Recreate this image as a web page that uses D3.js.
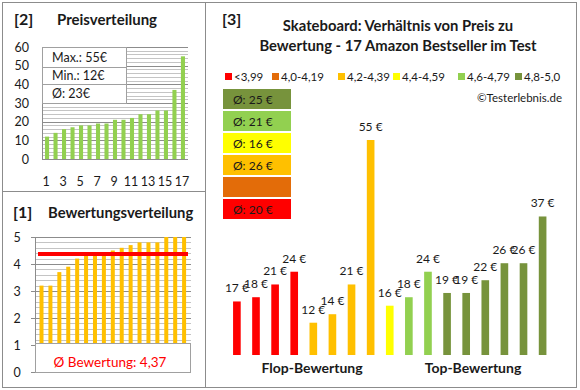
<!DOCTYPE html>
<html><head><meta charset="utf-8">
<script src="https://cdn.jsdelivr.net/npm/d3@7"></script>
<style>body{margin:0;background:#fff}svg{display:block;font-family:Lato,"Liberation Sans",sans-serif}</style>
</head><body>
<svg id="c" width="580" height="390"></svg>
<script>
// ---- data ----
const products = d3.range(1, 18);
const prices = [17, 18, 21, 24, 12, 14, 21, 55, 16, 18, 24, 19, 19, 22, 26, 26, 37];
const ratings = [3.2, 3.2, 3.7, 3.9, 4.2, 4.3, 4.3, 4.3, 4.5, 4.6, 4.7, 4.8, 4.8, 4.8, 5.0, 5.0, 5.0];
const classLabels = ["<3,99", "4,0-4,19", "4,2-4,39", "4,4-4,59", "4,6-4,79", "4,8-5,0"];
const classColors = ["#FF0000", "#E36C09", "#FFC000", "#FFFF00", "#92D050", "#77933C"];
const classMin = [0, 4.0, 4.2, 4.4, 4.6, 4.8];
const avgBoxOrder = [5, 4, 3, 2, 1, 0];
const priceTicks = [0, 10, 20, 30, 40, 50, 60];
const priceXTicks = [1, 3, 5, 7, 9, 11, 13, 15, 17];
const ratingTicks = [0, 1, 2, 3, 4, 5];
const sortedPrices = prices.slice().sort(d3.ascending);
const sortedRatings = ratings.slice().sort(d3.ascending);
const avgRating = d3.mean(ratings);

const svg = d3.select('#c');
const txt = '#1a1a1a';
const borderC = '#8c8c8c';

// ---- panel borders ----
svg.append('rect').attr('x', 2.5).attr('y', 2.5).attr('width', 574).attr('height', 385)
  .attr('fill', 'none').attr('stroke', borderC);
svg.append('line').attr('x1', 205.5).attr('x2', 205.5).attr('y1', 2).attr('y2', 388).attr('stroke', borderC);
svg.append('line').attr('x1', 2).attr('x2', 205.5).attr('y1', 191.5).attr('y2', 191.5).attr('stroke', borderC);

// ---- [2] Preisverteilung ----
svg.append('text').attr('x', 14).attr('y', 25).attr('font-size', 16).attr('font-weight', 'bold').attr('fill', txt).text('[2]');
svg.append('text').attr('x', 57).attr('y', 25).attr('font-size', 15).attr('font-weight', 'bold').attr('fill', txt).text('Preisverteilung');

const p2 = {l: 42, r: 188, t: 47, b: 159};
const y2 = d3.scaleLinear().domain([0, 60]).range([p2.b, p2.t]);
const x2 = d3.scaleBand().domain(products).range([40.6, 189.4]).padding(0.52);
const g2 = svg.append('g');
g2.selectAll('line.minor').data(d3.range(2, 61, 2)).join('line')
  .attr('x1', p2.l).attr('x2', p2.r).attr('y1', d => Math.round(y2(d)) + 0.5).attr('y2', d => Math.round(y2(d)) + 0.5)
  .attr('stroke', d => d % 10 === 0 ? '#8c8c8c' : '#c4c4c4');
g2.append('line').attr('x1', p2.l + 0.5).attr('x2', p2.l + 0.5).attr('y1', p2.t).attr('y2', p2.b).attr('stroke', '#8c8c8c');
g2.append('line').attr('x1', p2.l).attr('x2', p2.r).attr('y1', p2.b + 0.5).attr('y2', p2.b + 0.5).attr('stroke', '#8c8c8c');
g2.selectAll('rect.bar').data(sortedPrices).join('rect')
  .attr('x', (d, i) => x2(products[i])).attr('width', x2.bandwidth())
  .attr('y', d => y2(d)).attr('height', d => y2(0) - y2(d)).attr('fill', '#92D050');
g2.selectAll('text.yl').data(priceTicks).join('text')
  .attr('x', 29).attr('y', d => y2(d) + 4.5).attr('text-anchor', 'end').attr('font-size', 12.5).attr('fill', txt).text(d => d);
g2.selectAll('text.xl').data(priceXTicks).join('text')
  .attr('x', d => x2(d) + x2.bandwidth() / 2 - 1).attr('y', 186).attr('text-anchor', 'middle').attr('font-size', 12.5).attr('fill', txt).text(d => d);
// info box
const infoRows = ['Max.: ' + d3.max(prices) + '€', 'Min.: ' + d3.min(prices) + '€', 'Ø: ' + Math.round(d3.mean(prices)) + '€'];
const rowY = [47, 67, 84, 103];
g2.append('rect').attr('x', 42.5).attr('y', 47.5).attr('width', 84).attr('height', 56).attr('fill', '#fff').attr('stroke', '#a0a0a0');
g2.selectAll('line.sep').data([67, 84]).join('line')
  .attr('x1', 42.5).attr('x2', 126.5).attr('y1', d => d + 0.5).attr('y2', d => d + 0.5).attr('stroke', '#a0a0a0');
g2.selectAll('text.info').data(infoRows).join('text')
  .attr('x', 52).attr('y', (d, i) => (rowY[i] + rowY[i + 1]) / 2 + 4.5).attr('font-size', 12.5).attr('fill', txt).text(d => d);

// ---- [1] Bewertungsverteilung ----
svg.append('text').attr('x', 13).attr('y', 218).attr('font-size', 16).attr('font-weight', 'bold').attr('fill', txt).text('[1]');
svg.append('text').attr('x', 48).attr('y', 218).attr('font-size', 14.8).attr('font-weight', 'bold').attr('fill', txt).text('Bewertungsverteilung');

const p1 = {l: 35, r: 191, t: 237, b: 372};
const y1 = d3.scaleLinear().domain([0, 5]).range([p1.b, p1.t]);
const x1 = d3.scaleBand().domain(products).range([34.6, 191]).padding(0.55);
const g1 = svg.append('g');
g1.selectAll('line.grid').data(d3.range(1, 5.01, 0.2).map(v => +v.toFixed(1))).join('line')
  .attr('x1', p1.l).attr('x2', p1.r).attr('y1', d => Math.round(y1(d)) + 0.5).attr('y2', d => Math.round(y1(d)) + 0.5)
  .attr('stroke', d => Number.isInteger(d) ? '#8c8c8c' : '#c4c4c4');
g1.selectAll('line.tk').data(ratingTicks).join('line')
  .attr('x1', 31).attr('x2', p1.l).attr('y1', d => Math.round(y1(d)) + 0.5).attr('y2', d => Math.round(y1(d)) + 0.5).attr('stroke', '#8c8c8c');
g1.append('line').attr('x1', p1.l + 0.5).attr('x2', p1.l + 0.5).attr('y1', p1.t).attr('y2', p1.b).attr('stroke', '#8c8c8c');
g1.selectAll('rect.bar').data(sortedRatings).join('rect')
  .attr('x', (d, i) => x1(products[i])).attr('width', x1.bandwidth())
  .attr('y', d => y1(d)).attr('height', d => y1(0) - y1(d)).attr('fill', '#FFC000');
g1.append('line').attr('x1', 38).attr('x2', 188).attr('y1', y1(avgRating)).attr('y2', y1(avgRating))
  .attr('stroke', '#FF0000').attr('stroke-width', 4);
g1.append('rect').attr('x', 35.5).attr('y', y1(1) - 1.5).attr('width', 155).attr('height', 29).attr('fill', '#fff').attr('stroke', '#a0a0a0');
g1.append('text').attr('x', 110).attr('y', 367).attr('text-anchor', 'middle').attr('font-size', 13.5).attr('fill', '#FF0000')
  .text('Ø Bewertung: ' + avgRating.toFixed(2).replace('.', ','));
g1.selectAll('text.yl').data(ratingTicks).join('text')
  .attr('x', 17).attr('y', d => y1(d) + 4.5).attr('text-anchor', 'middle').attr('font-size', 12.5).attr('fill', txt).text(d => d);

// ---- [3] main ----
svg.append('text').attr('x', 222).attr('y', 25).attr('font-size', 16).attr('font-weight', 'bold').attr('fill', txt).text('[3]');
svg.append('text').attr('x', 398).attr('y', 31).attr('text-anchor', 'middle').attr('font-size', 14.8).attr('font-weight', 'bold').attr('fill', txt)
  .text('Skateboard: Verhältnis von Preis zu');
svg.append('text').attr('x', 398).attr('y', 51).attr('text-anchor', 'middle').attr('font-size', 14.8).attr('font-weight', 'bold').attr('fill', txt)
  .text('Bewertung - 17 Amazon Bestseller im Test');

// legend
const legX = [225, 272, 338, 393, 458, 515];
const lg = svg.append('g');
lg.selectAll('rect').data(classLabels).join('rect')
  .attr('x', (d, i) => legX[i]).attr('y', 73).attr('width', 7).attr('height', 7).attr('fill', (d, i) => classColors[i]);
lg.selectAll('text').data(classLabels).join('text')
  .attr('x', (d, i) => legX[i] + 9).attr('y', 81).attr('font-size', 11.5).attr('fill', txt).text(d => d);
svg.append('text').attr('x', 562).attr('y', 102).attr('text-anchor', 'end').attr('font-size', 11.5).attr('fill', txt).text('©Testerlebnis.de');

const classOf = r => { let c = 0; classMin.forEach((m, i) => { if (r >= m - 1e-9) c = i; }); return c; };

// average boxes
const ab = svg.append('g');
avgBoxOrder.forEach((ci, k) => {
  const vals = prices.filter((p, i) => classOf(ratings[i]) === ci);
  const y = 89 + k * 22;
  ab.append('rect').attr('x', 223).attr('y', y).attr('width', 68).attr('height', 20).attr('fill', classColors[ci]);
  if (vals.length) ab.append('text').attr('x', 233).attr('y', y + 14.5).attr('font-size', 12).attr('fill', txt)
    .text('Ø: ' + Math.round(d3.mean(vals)) + ' €');
});

const x3 = d3.scaleBand().domain(products).range([221.6, 557.9]).padding(0.6);
const y3 = d3.scaleLinear().domain([4.4, 55]).range([355, 140]);
const g3 = svg.append('g');
g3.selectAll('rect').data(prices).join('rect')
  .attr('x', (d, i) => x3(products[i])).attr('width', x3.bandwidth())
  .attr('y', d => y3(d)).attr('height', d => y3(4.4) - y3(d))
  .attr('fill', (d, i) => classColors[classOf(ratings[i])]);
g3.selectAll('text').data(prices).join('text')
  .attr('x', (d, i) => x3(products[i]) + x3.bandwidth() / 2).attr('y', d => y3(d) - 9)
  .attr('text-anchor', 'middle').attr('font-size', 12).attr('fill', txt).text(d => d + ' €');
svg.append('text').attr('x', 312).attr('y', 373).attr('text-anchor', 'middle').attr('font-size', 14).attr('font-weight', 'bold').attr('fill', txt).text('Flop-Bewertung');
svg.append('text').attr('x', 473).attr('y', 373).attr('text-anchor', 'middle').attr('font-size', 14).attr('font-weight', 'bold').attr('fill', txt).text('Top-Bewertung');
</script>
</body></html>
